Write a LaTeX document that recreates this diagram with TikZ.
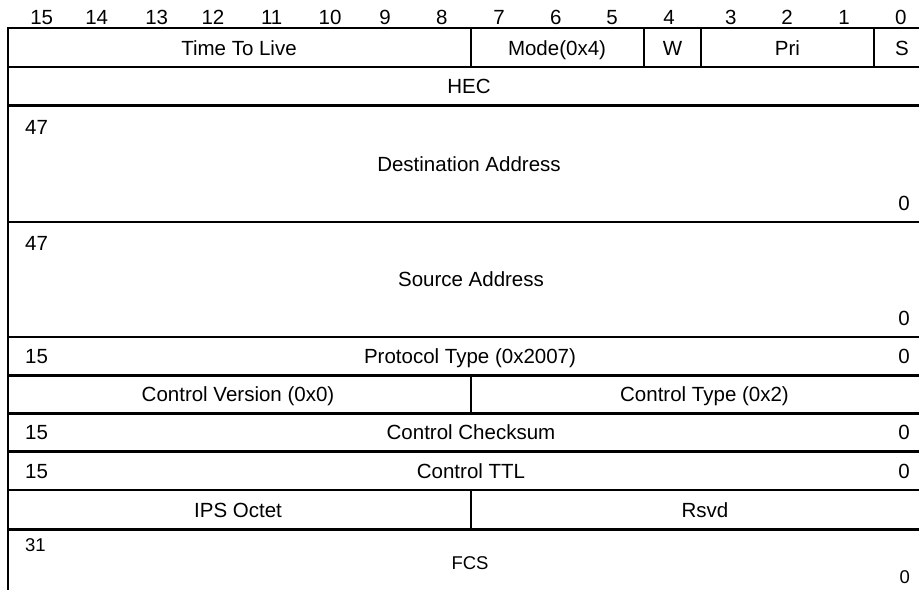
\documentclass[tikz,border=0pt]{standalone}
\usepackage{fontspec}
\setmainfont{Liberation Sans}
\begin{document}
\begin{tikzpicture}[x=1pt,y=-1pt,
  rule/.style={line width=2pt,black},
  heavy/.style={line width=2.8pt,black},
  lbl/.style={inner sep=0pt,anchor=base,font=\fontsize{20.5}{24}\selectfont},
  lblw/.style={lbl,anchor=base west},
  lble/.style={lbl,anchor=base east},
  small/.style={font=\fontsize{18.5}{22}\selectfont}]
\useasboundingbox (0,0) rectangle (919,590);

% bit numbers along the top
\foreach \b/\x in {15/41.7,14/96.7,13/156.7,12/213,11/271.7,10/330,9/385,8/441.7,
                   7/499,6/555.7,5/612,4/669,3/730.7,2/787,1/844,0/900.7}
  \node[lbl] (bit\b) at (\x,24) {\b};

% horizontal rules (the frame runs off the right edge)
\draw[rule] (8,28.3) -- (919,28.3);
\draw[rule] (8,66.7) -- (919,66.7);
\draw[heavy] (8,105.5) -- (919,105.5);
\draw[rule] (8,221.7) -- (919,221.7);
\draw[rule] (8,336.7) -- (919,336.7);
\draw[heavy] (8,375.5) -- (919,375.5);
\draw[heavy] (8,413.3) -- (919,413.3);
\draw[heavy] (8,451.7) -- (919,451.7);
\draw[heavy] (8,490) -- (919,490);
\draw[heavy] (8,529.3) -- (919,529.3);

% left edge
\draw[line width=2.6pt] (8,27) -- (8,590);

% field dividers
\draw[rule] (470.5,28.3) -- (470.5,66.7);
\draw[rule] (644,28.3) -- (644,66.7);
\draw[rule] (701,28.3) -- (701,66.7);
\draw[rule] (874,28.3) -- (874,66.7);
\draw[rule] (470.5,375.5) -- (470.5,413.3);
\draw[rule] (470.5,490) -- (470.5,529.3);

% word 0: flags
\node[lbl] (ttl)  at (239,55) {Time To Live};
\node[lbl] (mode) at (557,55) {Mode(0x4)};
\node[lbl] (w)    at (672.5,55) {W};
\node[lbl] (pri)  at (787.5,55) {Pri};
\node[lbl] (s)    at (902,55) {S};

\node[lbl] (hec) at (469,93.3) {HEC};

% addresses
\node[lblw] (dmsb) at (25,134) {47};
\node[lbl]  (dst)  at (469,171.5) {Destination Address};
\node[lble] (dlsb) at (910,210.3) {0};

\node[lblw] (smsb) at (25,250) {47};
\node[lbl]  (src)  at (471,286.5) {Source Address};
\node[lble] (slsb) at (910,325.6) {0};

% protocol and control fields
\node[lblw] (pmsb)  at (25,363.3) {15};
\node[lbl]  (proto) at (470,363.3) {Protocol Type (0x2007)};
\node[lble] (plsb)  at (910,363.3) {0};

\node[lbl] (cver)  at (238,401.7) {Control Version (0x0)};
\node[lbl] (ctype) at (704.5,401.7) {Control Type (0x2)};

\node[lblw] (cmsb) at (25,439.8) {15};
\node[lbl]  (csum) at (471,439.8) {Control Checksum};
\node[lble] (clsb) at (910,439.8) {0};

\node[lblw] (tmsb) at (25,478) {15};
\node[lbl]  (cttl) at (471,478) {Control TTL};
\node[lble] (tlsb) at (910,478) {0};

\node[lbl] (ips)  at (238,517) {IPS Octet};
\node[lbl] (rsvd) at (705,517) {Rsvd};

% frame check sequence
\node[lblw,small] (fmsb) at (25,551.5) {31};
\node[lbl,small]  (fcs)  at (470,569.5) {FCS};
\node[lble,small] (flsb) at (910,583.5) {0};
\end{tikzpicture}
\end{document}
